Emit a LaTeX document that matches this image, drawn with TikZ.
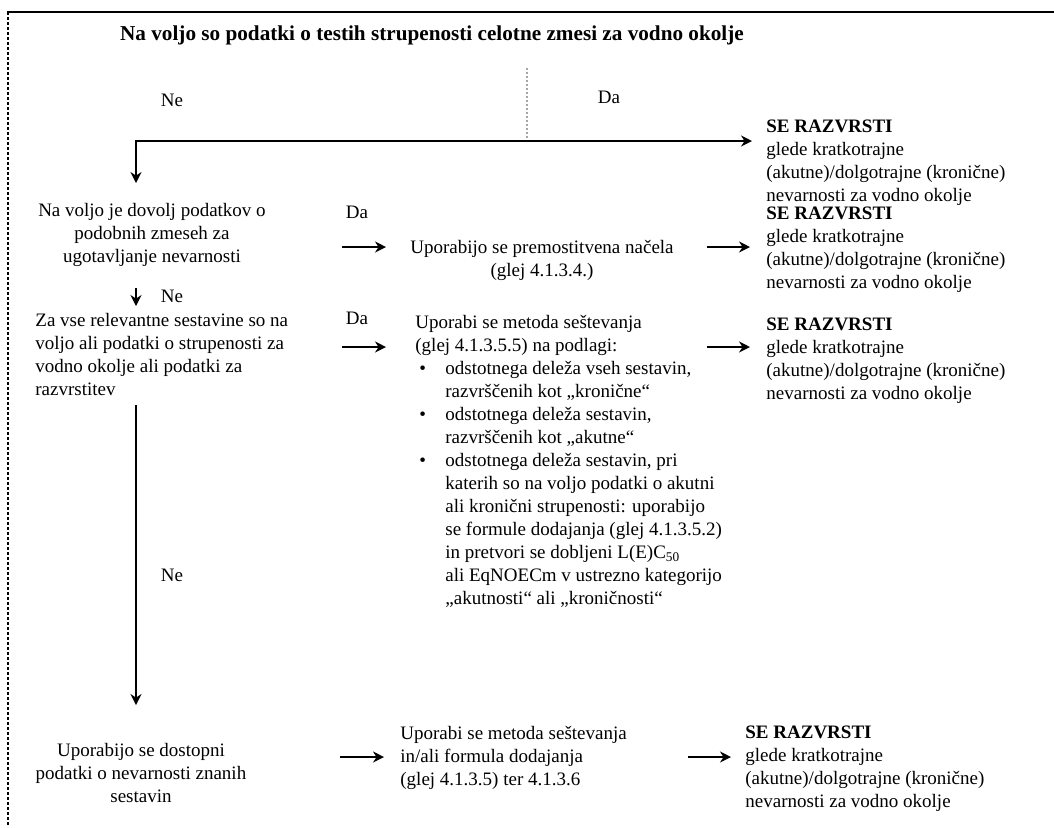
\documentclass[tikz,border=0pt]{standalone}
\usepackage{fontspec}
\setmainfont{Liberation Serif}
\usepackage{tikz}
\usetikzlibrary{positioning,arrows.meta}

\newcommand{\blt}{\hspace*{2pt}\makebox[13pt][l]{\textbullet}}
\newcommand{\ind}{\hspace*{15pt}}

\begin{document}
\begin{tikzpicture}[x=0.5pt, y=-0.5pt, >=Stealth,
    every node/.style={font=\fontsize{9.5}{11.5}\selectfont, inner sep=0pt},
    arr/.style={->, line width=1.2pt, arrows={-Stealth[length=5.5pt,width=5.5pt]}},
    res/.style={anchor=north west, align=left},
    lbl/.style={anchor=center}]

  \useasboundingbox (0,0) rectangle (1054,827);

  % frame
  \draw[line width=1.4pt] (7,12) -- (1054,12);
  \draw[line width=1.2pt, dash pattern=on 1.5pt off 1pt] (8,12) -- (8,827);

  % title and first split
  \node[anchor=north, font=\fontsize{10.6}{12.5}\selectfont\bfseries] (title) at (432,25)
      {Na voljo so podatki o testih strupenosti celotne zmesi za vodno okolje};
  \node[lbl] (ne0) at (172,100) {Ne};
  \node[lbl] (da0) at (609,97) {Da};

  \coordinate (top) at (527,68);
  \coordinate (split) at (527,141);
  \coordinate (q1in) at (136,183);

  % right column
  \node[res] (res0) at (766,120) {\textbf{SE RAZVRSTI}\\glede kratkotrajne\\(akutne)/dolgotrajne (kronične)\\nevarnosti za vodno okolje};
  \node[res] (res1) at (766,207) {\textbf{SE RAZVRSTI}\\glede kratkotrajne\\(akutne)/dolgotrajne (kronične)\\nevarnosti za vodno okolje};
  \node[res] (res2) at (766,318) {\textbf{SE RAZVRSTI}\\glede kratkotrajne\\(akutne)/dolgotrajne (kronične)\\nevarnosti za vodno okolje};
  \node[res] (res3) at (745,725) {\textbf{SE RAZVRSTI}\\glede kratkotrajne\\(akutne)/dolgotrajne (kronične)\\nevarnosti za vodno okolje};

  % left column
  \node[anchor=north, align=center] (q1) at (152,203)
      {Na voljo je dovolj podatkov o\\podobnih zmeseh za\\ugotavljanje nevarnosti};
  \node[anchor=north west, align=left] (q2) at (35,313)
      {Za vse relevantne sestavine so na\\voljo ali podatki o strupenosti za\\vodno okolje ali podatki za\\razvrstitev};
  \node[anchor=north, align=center] (q3) at (141,743)
      {Uporabijo se dostopni\\podatki o nevarnosti znanih\\sestavin};

  % middle column
  \node[anchor=north, align=center] (act1) at (542,240)
      {Uporabijo se premostitvena načela\\(glej 4.1.3.4.)};
  \node[anchor=north west, align=left] (act2) at (415,315)
      {Uporabi se metoda seštevanja\\
       (glej 4.1.3.5.5) na podlagi:\\
       \blt odstotnega deleža vseh sestavin,\\
       \ind razvrščenih kot „kronične“\\
       \blt odstotnega deleža sestavin,\\
       \ind razvrščenih kot „akutne“\\
       \blt odstotnega deleža sestavin, pri\\
       \ind katerih so na voljo podatki o akutni\\
       \ind ali kronični strupenosti: uporabijo\\
       \ind se formule dodajanja (glej 4.1.3.5.2)\\
       \ind in pretvori se dobljeni L(E)C\textsubscript{50}\\
       \ind ali EqNOECm v ustrezno kategorijo\\
       \ind „akutnosti“ ali „kroničnosti“};
  \node[anchor=north west, align=left] (act3) at (400,726)
      {Uporabi se metoda seštevanja\\in/ali formula dodajanja\\(glej 4.1.3.5) ter 4.1.3.6};

  % yes / no labels
  \node[lbl] (da1) at (357,212) {Da};
  \node[lbl] (da2) at (357,318) {Da};
  \node[lbl] (ne1) at (172,296) {Ne};
  \node[lbl] (ne2) at (172,575) {Ne};

  % arrow ends
  \coordinate (a1) at (342,247);
  \coordinate (b1) at (707,247);
  \coordinate (a2) at (342,347);
  \coordinate (b2) at (707,347);
  \coordinate (a3) at (340,757);
  \coordinate (b3) at (688,757);
  \coordinate (n1) at (136,288);
  \coordinate (n2) at (136,405);

  % connectors
  \draw[line width=1pt, gray!70, densely dotted] (top) -- (split);
  \draw[arr] (split) -| (q1in);
  \draw[arr, shorten >=7pt] (split) -- (split -| res0.west);
  \draw[arr] (a1) -- ++(44,0);
  \draw[arr, shorten >=8pt] (b1) -- (b1 -| res1.west);
  \draw[arr] (a2) -- ++(44,0);
  \draw[arr, shorten >=8pt] (b2) -- (b2 -| res2.west);
  \draw[arr] (n1) -- ++(0,18);
  \draw[arr] (n2) -- ++(0,300);
  \draw[arr] (a3) -- ++(44,0);
  \draw[arr, shorten >=7pt] (b3) -- (b3 -| res3.west);
\end{tikzpicture}
\end{document}
